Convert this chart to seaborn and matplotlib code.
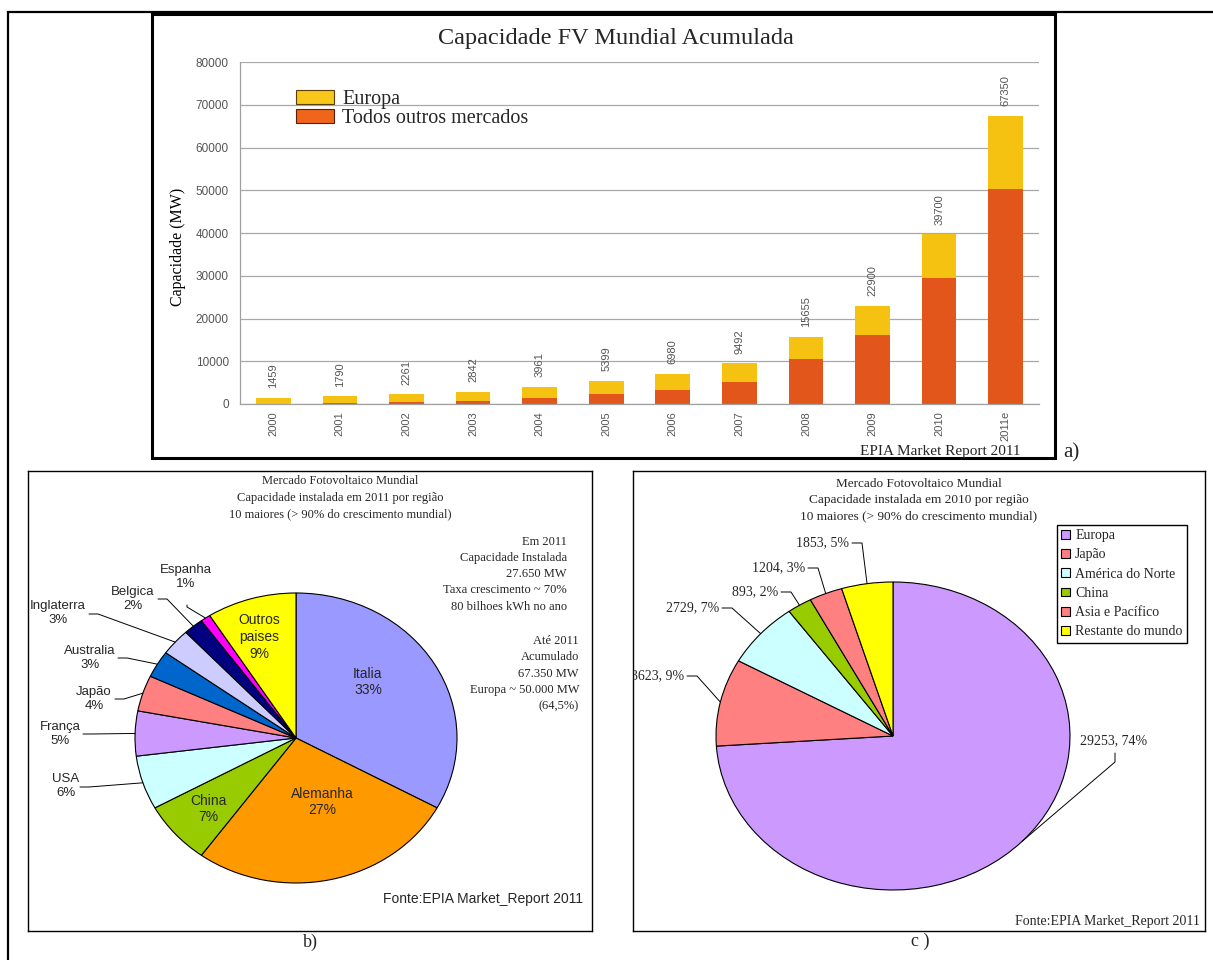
import numpy as np
import pandas as pd
import matplotlib
matplotlib.use('Agg')
import matplotlib.pyplot as plt
import seaborn as sns
from matplotlib.patches import Patch, Rectangle
from matplotlib.font_manager import FontProperties

W, H = 1213, 960

# a) capacidade acumulada (MW)
years = ['2000', '2001', '2002', '2003', '2004', '2005', '2006', '2007', '2008', '2009', '2010', '2011e']
total_mw = [1459, 1790, 2261, 2842, 3961, 5399, 6980, 9492, 15655, 22900, 39700, 67350]
others_mw = [80, 300, 500, 750, 1500, 2300, 3350, 5200, 10500, 16100, 29450, 50250]

# b) capacidade instalada em 2011 (%)
countries_2011 = ['Italia', 'Alemanha', 'China', 'USA', 'França', 'Japão', 'Australia',
                  'Inglaterra', 'Belgica', 'Espanha', 'Outros\npaises']
share_2011 = [33, 27, 7, 6, 5, 4, 3, 3, 2, 1, 9]
colors_2011 = ['#9999FF', '#FF9900', '#99CC00', '#CCFFFF', '#CC99FF', '#FF8080', '#0066CC',
               '#CCCCFF', '#000080', '#FF00FF', '#FFFF00']

# c) capacidade instalada em 2010 (MW)
regions_2010 = ['Europa', 'Japão', 'América do Norte', 'China', 'Asia e Pacífico', 'Restante do mundo']
mw_2010 = [29253, 3623, 2729, 893, 1204, 1853]
colors_2010 = ['#CC99FF', '#FF8080', '#CCFFFF', '#99CC00', '#FF8080', '#FFFF00']

yellow, orange = '#F6C212', '#E2561B'

sns.set_theme(style='whitegrid')
plt.rcParams['font.family'] = ['Liberation Sans', 'DejaVu Sans']
SERIF = ['Liberation Serif', 'DejaVu Serif']


def rect(x0, y0, x1, y1):
    return [x0 / W, 1 - y1 / H, (x1 - x0) / W, (y1 - y0) / H]


fig = plt.figure(figsize=(W / 100, H / 100), dpi=100)

# ---------------- a) bar chart ----------------
ax = fig.add_axes(rect(240, 62, 1039, 404))
df = pd.DataFrame({'ano': years, 'total': total_mw, 'outros': others_mw})
sns.barplot(data=df, x='ano', y='total', color=yellow, saturation=1, width=0.52,
            edgecolor='none', linewidth=0, ax=ax)
sns.barplot(data=df, x='ano', y='outros', color=orange, saturation=1, width=0.52,
            edgecolor='none', linewidth=0, ax=ax)
ax.set_ylim(0, 80000)
ax.set_xlim(-0.5, len(years) - 0.5)
ax.set_yticks(range(0, 80001, 10000))
ax.set_xlabel('')
ax.grid(axis='y', color='#a8a8a8', lw=0.9)
ax.grid(axis='x', visible=False)
for s in ['top', 'right']:
    ax.spines[s].set_visible(False)
for s in ['left', 'bottom']:
    ax.spines[s].set_color('#a0a0a0')
    ax.spines[s].set_linewidth(0.9)
ax.tick_params(axis='x', rotation=90, labelsize=8, labelcolor='#555555', length=0, pad=5)
ax.tick_params(axis='y', labelsize=8.5, labelcolor='#555555', length=0, pad=8)
for i, v in enumerate(total_mw):
    ax.annotate(str(v), (i, v), xytext=(0, 7), textcoords='offset points', rotation=90,
                ha='center', va='bottom', fontsize=8, color='#555555')
ax.set_ylabel('Capacidade (MW)', family=SERIF, fontsize=11.5, color='black')
ax.yaxis.set_label_coords((186 - 240) / 799, (404 - 247) / 342)
ax.set_title('Capacidade FV Mundial Acumulada', family=SERIF, fontsize=17.5,
             x=(616 - 240) / 799, pad=13)
handles = [Patch(facecolor='#F8C71B', edgecolor='#5a4000', lw=0.8),
           Patch(facecolor='#F0641C', edgecolor='#5a2000', lw=0.8)]
ax.legend(handles, ['Europa', 'Todos outros mercados'], loc='upper left',
          bbox_to_anchor=(286 / W, 1 - 80 / H), bbox_transform=fig.transFigure,
          prop=FontProperties(family=SERIF, size=14.5), frameon=False, borderpad=0,
          handlelength=1.9, handleheight=0.65, labelspacing=0.0, handletextpad=0.4)

# ---------------- b) pie 2011 ----------------
bcx, bcy, brx, bry = 296, 738, 161, 145
bx0, by0, bx1, by1 = 28, 471, 592, 931
ax_b = fig.add_axes(rect(bx0, by0, bx1, by1))
wedges_b, _ = ax_b.pie(share_2011, colors=colors_2011, startangle=90, counterclock=False,
                       frame=True, wedgeprops=dict(edgecolor='black', linewidth=0.8))
ax_b.set_aspect('auto')
ax_b.set_xlim((bx0 - bcx) / brx, (bx1 - bcx) / brx)
ax_b.set_ylim((bcy - by1) / bry, (bcy - by0) / bry)

# ---------------- c) pie 2010 ----------------
ccx, ccy, crx, cry = 893, 736, 177, 154
cx0, cy0, cx1, cy1 = 633, 471, 1205, 931
ax_c = fig.add_axes(rect(cx0, cy0, cx1, cy1))
wedges_c, _ = ax_c.pie(mw_2010, colors=colors_2010, startangle=90, counterclock=False,
                       frame=True, wedgeprops=dict(edgecolor='black', linewidth=0.8))
ax_c.set_aspect('auto')
ax_c.set_xlim((cx0 - ccx) / crx, (cx1 - ccx) / crx)
ax_c.set_ylim((ccy - cy1) / cry, (ccy - cy0) / cry)
leg = ax_c.legend(wedges_c, regions_2010, loc='upper left',
                  bbox_to_anchor=(1057 / W, 1 - 525 / H), bbox_transform=fig.transFigure,
                  prop=FontProperties(family=SERIF, size=10), frameon=True, fancybox=False,
                  framealpha=1, edgecolor='black', borderpad=0.3, handlelength=0.6,
                  handleheight=0.6, labelspacing=0.45, handletextpad=0.4, borderaxespad=0)
leg.get_frame().set_linewidth(1.0)

for a in (ax_b, ax_c):
    a.set_xticks([])
    a.set_yticks([])
    a.grid(False)
    for s in a.spines.values():
        s.set_visible(True)
        s.set_color('black')
        s.set_linewidth(1.0)

# ---------------- overlay: frames, texts, leader lines ----------------
ov = fig.add_axes([0, 0, 1, 1], zorder=10)
ov.set_xlim(0, W)
ov.set_ylim(H, 0)
ov.axis('off')
ov.patch.set_alpha(0)

ov.plot([8, 8, W], [H, 12, 12], color='black', lw=1.6, solid_joinstyle='miter')
ov.add_patch(Rectangle((152, 14), 1055 - 152, 458 - 14, fill=False, ec='black', lw=2.2))
ov.text(940, 452, 'EPIA Market Report 2011', family=SERIF, fontsize=11, ha='center', va='center')
ov.text(1063, 453, 'a)', family=SERIF, fontsize=15, ha='left', va='center')
ov.text(310, 942, 'b)', family=SERIF, fontsize=13, ha='center', va='center')
ov.text(920, 941, 'c )', family=SERIF, fontsize=13, ha='center', va='center')

# panel b texts
for yy, line in zip([481, 498, 514], ['Mercado Fotovoltaico Mundial',
                                      'Capacidade instalada em 2011 por região',
                                      '10 maiores (> 90% do crescimento mundial)']):
    ov.text(340, yy, line, family=SERIF, fontsize=9, ha='center', va='center')
for yy, line in zip([542, 558, 574, 590, 607], ['Em 2011', 'Capacidade Instalada', '27.650 MW',
                                                'Taxa crescimento ~ 70%', '80 bilhoes kWh no ano']):
    ov.text(567, yy, line, family=SERIF, fontsize=9, ha='right', va='center')
for yy, line in zip([641, 657, 674, 690, 706], ['Até 2011', 'Acumulado', '67.350 MW',
                                                'Europa ~ 50.000 MW', '(64,5%)']):
    ov.text(579, yy, line, family=SERIF, fontsize=9, ha='right', va='center')
ov.text(583, 899, 'Fonte:EPIA Market_Report 2011', fontsize=10, ha='right', va='center')

b_inside = {0: (368, 682), 1: (322, 802), 2: (208, 809), 10: (259, 637)}
# label centre, leader start
b_outside = {3: ((66, 786), (80, 787)), 4: ((60, 734), (83, 734)), 5: ((94, 699), (115, 699)),
             6: ((90, 658), (118, 658)), 7: ((58, 613), (89, 614)), 8: ((133, 599), (158, 599)),
             9: ((186, 577), (187, 605))}
for i, w in enumerate(wedges_b):
    txt = f'{countries_2011[i]}\n{share_2011[i]}%'
    if i in b_inside:
        x, y = b_inside[i]
        ov.text(x, y, txt, fontsize=10, ha='center', va='center', linespacing=1.25)
        continue
    (lx, ly), (sx, sy) = b_outside[i]
    ov.text(lx, ly, txt, fontsize=9.5, ha='center', va='center', linespacing=1.25)
    t = np.deg2rad((w.theta1 + w.theta2) / 2)
    ex, ey = bcx + brx * np.cos(t), bcy - bry * np.sin(t)
    if i == 9:
        mx, my = sx, sy + 2
    else:
        mx, my = sx + 9, sy
    ov.plot([sx, mx, ex], [sy, my, ey], color='black', lw=0.7)

# panel c texts
for yy, line in zip([484, 500, 516], ['Mercado Fotovoltaico Mundial',
                                      'Capacidade instalada em 2010 por região',
                                      '10 maiores (> 90% do crescimento mundial)']):
    ov.text(919, yy, line, family=SERIF, fontsize=9.5, ha='center', va='center')
ov.text(1200, 922, 'Fonte:EPIA Market_Report 2011', family=SERIF, fontsize=10, ha='right', va='center')

tot = sum(mw_2010)
# label right end / y
c_labels = {1: (684, 676), 2: (719, 608), 3: (778, 592), 4: (805, 568), 5: (849, 543)}
for i, w in enumerate(wedges_c):
    txt = f'{mw_2010[i]}, {round(mw_2010[i] / tot * 100)}%'
    t = np.deg2rad((w.theta1 + w.theta2) / 2)
    ex, ey = ccx + crx * np.cos(t), ccy - cry * np.sin(t)
    if i == 0:
        ov.text(1114, 741, txt, family=SERIF, fontsize=10, ha='center', va='center')
        ov.plot([1115, 1115, ex], [753, 762, ey], color='black', lw=0.7)
        continue
    rx_, ry_ = c_labels[i]
    tt = ov.text(rx_, ry_, txt, family=SERIF, fontsize=10, ha='right', va='center')
    tt.set_clip_box(ax_c.bbox)
    tt.set_clip_on(True)
    ov.plot([rx_ + 3, rx_ + 13, ex], [ry_, ry_, ey], color='black', lw=0.7)

fig.savefig('out.png', dpi=100, facecolor='white')
